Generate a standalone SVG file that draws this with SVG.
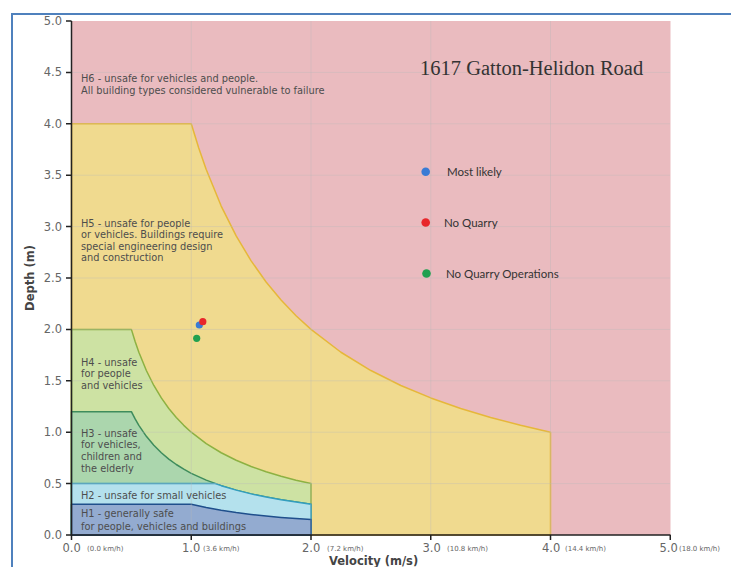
<svg xmlns="http://www.w3.org/2000/svg" width="731" height="567" viewBox="0 0 731 567">
<style>
.zl{font-family:"DejaVu Sans",Verdana,sans-serif;font-size:9.8px;fill:#4d4d4d}
.yt{font-family:"DejaVu Sans",Verdana,sans-serif;font-size:11.5px;fill:#666;text-anchor:end}
.xt{font-family:"DejaVu Sans",Verdana,sans-serif;font-size:11.5px;fill:#666}
.xs{font-family:"DejaVu Sans",Verdana,sans-serif;font-size:7px;fill:#666}
.ax{font-family:"DejaVu Sans",Verdana,sans-serif;font-size:11.5px;font-weight:bold;fill:#444}
.lg{font-family:Lato,"Liberation Sans",sans-serif;font-size:11.5px;fill:#333}
.grid line{stroke:#b8b8b8;stroke-opacity:0.35;stroke-width:1}
.zone{stroke-width:1.5;stroke-linejoin:round}
</style>
<rect width="731" height="567" fill="#fff"/>
<g id="frame" stroke="#4f81bd" stroke-width="2" fill="none">
<line x1="11" y1="14" x2="731" y2="14"/>
<line x1="12" y1="13" x2="12" y2="567"/>
</g>
<g id="zone-H6"><rect x="71.5" y="21" width="599" height="514" fill="#eabbbf"/></g>
<g id="zone-H5"><path class="zone" fill="#f0da8f" stroke="#e6b73a" d="M71.5,535 V123.8 H191.25 L198.74,147.99 L206.22,169.49 L221.19,206.04 L236.16,235.95 L251.13,260.87 L266.09,281.95 L281.06,300.03 L296.03,315.69 L311,329.4 L340.94,352.24 L370.88,370.52 L400.81,385.47 L430.75,397.93 L460.69,408.48 L490.63,417.51 L520.56,425.35 L550.5,432.2 V535 Z"/></g>
<g id="zone-H4"><path class="zone" fill="#cde2a3" stroke="#8db142" d="M71.5,535 V329.4 H131.38 L135.12,341.5 L138.86,352.25 L146.35,370.52 L153.83,385.48 L161.32,397.94 L168.8,408.48 L176.28,417.52 L183.77,425.35 L191.25,432.2 L206.22,443.62 L221.19,452.76 L236.16,460.24 L251.13,466.47 L266.1,471.74 L281.07,476.26 L296.03,480.18 L311,483.6 V535 Z"/></g>
<g id="zone-H3"><path class="zone" fill="#abd6ad" stroke="#3e8c5c" d="M71.5,535 V411.64 H131.38 L135.12,418.9 L138.86,425.35 L146.35,436.31 L153.83,445.28 L161.32,452.76 L168.8,459.08 L176.28,464.51 L183.77,469.21 L191.25,473.32 L206.22,480.17 L221.19,485.66 L236.16,490.14 L251.13,493.88 L266.1,497.04 L281.07,499.75 L296.03,502.1 L311,504.16 V535 Z"/></g>
<g id="zone-H2"><path class="zone" fill="#b4e1ed" stroke="#339ebf" d="M71.5,535 V483.6 H215.2 L221.19,485.66 L236.16,490.14 L251.13,493.88 L266.1,497.04 L281.07,499.75 L296.03,502.1 L311,504.16 V535 Z"/></g>
<g id="zone-H1"><path class="zone" fill="#93abd0" stroke="#1f4f8c" d="M71.5,535 V504.16 H191.25 L206.22,507.59 L221.19,510.33 L236.16,512.57 L251.13,514.44 L266.1,516.02 L281.07,517.38 L296.03,518.55 L311,519.58 V535 Z"/></g>
<g class="grid" id="grid">
<line x1="191.25" y1="21" x2="191.25" y2="535"/>
<line x1="311" y1="21" x2="311" y2="535"/>
<line x1="430.75" y1="21" x2="430.75" y2="535"/>
<line x1="550.5" y1="21" x2="550.5" y2="535"/>
<line x1="71.5" y1="483.6" x2="670" y2="483.6"/>
<line x1="71.5" y1="432.2" x2="670" y2="432.2"/>
<line x1="71.5" y1="380.8" x2="670" y2="380.8"/>
<line x1="71.5" y1="329.4" x2="670" y2="329.4"/>
<line x1="71.5" y1="278" x2="670" y2="278"/>
<line x1="71.5" y1="226.6" x2="670" y2="226.6"/>
<line x1="71.5" y1="175.2" x2="670" y2="175.2"/>
<line x1="71.5" y1="123.8" x2="670" y2="123.8"/>
<line x1="71.5" y1="72.4" x2="670" y2="72.4"/>
</g>
<g id="axes" stroke="#222" stroke-width="1.5" fill="none">
<path d="M71.5,21 V535 H670.5"/>
<path d="M66,21 H71.5 M66,72.4 H71.5 M66,123.8 H71.5 M66,175.2 H71.5 M66,226.6 H71.5 M66,278 H71.5 M66,329.4 H71.5 M66,380.8 H71.5 M66,432.2 H71.5 M66,483.6 H71.5 M66,535 H71.5"/>
<path d="M71.5,535 V540 M191.25,535 V540 M311,535 V540 M430.75,535 V540 M550.5,535 V540 M670.25,535 V540"/>
</g>
<g id="y-ticks">
<text class="yt" x="62" y="25">5.0</text>
<text class="yt" x="62" y="76.4">4.5</text>
<text class="yt" x="62" y="127.8">4.0</text>
<text class="yt" x="62" y="179.2">3.5</text>
<text class="yt" x="62" y="230.6">3.0</text>
<text class="yt" x="62" y="282">2.5</text>
<text class="yt" x="62" y="333.4">2.0</text>
<text class="yt" x="62" y="384.8">1.5</text>
<text class="yt" x="62" y="436.2">1.0</text>
<text class="yt" x="62" y="487.6">0.5</text>
<text class="yt" x="62" y="539">0.0</text>
</g>
<g id="x-ticks">
<text class="xt" x="62.5" y="551.5">0.0</text><text class="xs" x="87" y="551">(0.0 km/h)</text>
<text class="xt" x="182" y="551.5">1.0</text><text class="xs" x="203" y="551">(3.6 km/h)</text>
<text class="xt" x="302" y="551.5">2.0</text><text class="xs" x="327" y="551">(7.2 km/h)</text>
<text class="xt" x="422.5" y="551.5">3.0</text><text class="xs" x="447" y="551">(10.8 km/h)</text>
<text class="xt" x="542" y="551.5">4.0</text><text class="xs" x="565" y="551">(14.4 km/h)</text>
<text class="xt" x="659.5" y="551.5">5.0</text><text class="xs" x="679" y="551">(18.0 km/h)</text>
</g>
<g id="axis-labels">
<text class="ax" x="329" y="565">Velocity (m/s)</text>
<text class="ax" transform="translate(34,278) rotate(-90)" text-anchor="middle">Depth (m)</text>
</g>
<g id="zone-labels">
<text class="zl" x="81" y="82">H6 - unsafe for vehicles and people.</text>
<text class="zl" x="81" y="93.5">All building types considered vulnerable to failure</text>
<text class="zl" x="81" y="226.5">H5 - unsafe for people</text>
<text class="zl" x="81" y="238">or vehicles. Buildings require</text>
<text class="zl" x="81" y="249.5">special engineering design</text>
<text class="zl" x="81" y="261">and construction</text>
<text class="zl" x="81" y="365.5">H4 - unsafe</text>
<text class="zl" x="81" y="377">for people</text>
<text class="zl" x="81" y="388.5">and vehicles</text>
<text class="zl" x="81" y="436.5">H3 - unsafe</text>
<text class="zl" x="81" y="448">for vehicles,</text>
<text class="zl" x="81" y="460">children and</text>
<text class="zl" x="81" y="471.5">the elderly</text>
<text class="zl" x="81" y="499">H2 - unsafe for small vehicles</text>
<text class="zl" x="81" y="516.5">H1 - generally safe</text>
<text class="zl" x="81" y="530">for people, vehicles and buildings</text>
</g>
<g id="title"><text x="420" y="75" font-family="'Liberation Serif','Times New Roman',serif" font-size="20.5" fill="#333">1617 Gatton-Helidon Road</text></g>
<g id="data-points">
<circle cx="199.3" cy="325" r="3.6" fill="#3a7bd5"/>
<circle cx="202.8" cy="321.7" r="3.6" fill="#e8262b"/>
<circle cx="196.7" cy="338.3" r="3.6" fill="#20a050"/>
</g>
<g id="legend">
<circle cx="425.7" cy="171.7" r="4.3" fill="#3a7bd5"/>
<text class="lg" x="447" y="175.5">Most likely</text>
<circle cx="425.7" cy="222.5" r="4.3" fill="#e8262b"/>
<text class="lg" x="444" y="226.5">No Quarry</text>
<circle cx="426.5" cy="273.5" r="4.3" fill="#20a050"/>
<text class="lg" x="446" y="278">No Quarry Operations</text>
</g>
</svg>
